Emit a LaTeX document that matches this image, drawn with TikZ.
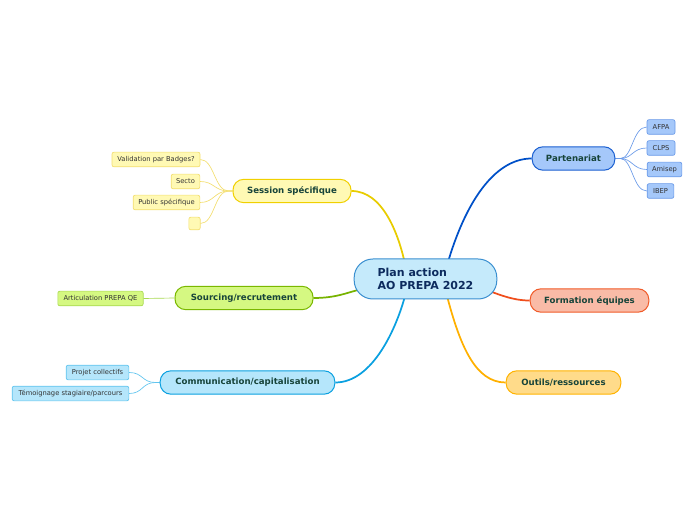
\documentclass[tikz,border=0pt]{standalone}
\usepackage{fontspec}
\setmainfont{DejaVu Sans}
\usetikzlibrary{backgrounds}
\definecolor{ctrfill}{HTML}{C5EAFB}
\definecolor{ctrdraw}{HTML}{3A8FD0}
\definecolor{ctrtext}{HTML}{0D2B5E}
\definecolor{toptext}{HTML}{17443A}
\definecolor{leaftext}{HTML}{333333}
\definecolor{pfill}{HTML}{A5C8FA}\definecolor{pdraw}{HTML}{1A5FD0}\definecolor{pline}{HTML}{0050C8}\definecolor{pleaf}{HTML}{6A9AE8}
\definecolor{sfill}{HTML}{FFF9B4}\definecolor{sdraw}{HTML}{F0D000}\definecolor{sline}{HTML}{E8CC00}\definecolor{sleaf}{HTML}{F3DE70}
\definecolor{gfill}{HTML}{D5F882}\definecolor{gdraw}{HTML}{7AB800}\definecolor{gline}{HTML}{77B300}\definecolor{gleaf}{HTML}{A8D850}
\definecolor{cfill}{HTML}{B5E6FB}\definecolor{cdraw}{HTML}{0AA0E0}\definecolor{cline}{HTML}{0AA0E0}\definecolor{cleaf}{HTML}{60C4EE}
\definecolor{ffill}{HTML}{F9BBA7}\definecolor{fdraw}{HTML}{F05A28}\definecolor{fline}{HTML}{F04E1C}
\definecolor{ofill}{HTML}{FFDB8A}\definecolor{odraw}{HTML}{FFB300}\definecolor{oline}{HTML}{FFB000}
\tikzset{
  x=0.75pt, y=-0.75pt,
  central/.style={draw=ctrdraw, fill=ctrfill, line width=0.75pt, rounded corners=14pt,
    minimum width=107pt, minimum height=30pt, align=left, text=ctrtext,
    font=\fontsize{8.25pt}{9.8pt}\selectfont\bfseries, inner sep=0pt},
  topic/.style={line width=0.75pt, rounded corners=8pt, minimum height=17.5pt, inner sep=0pt,
    text=toptext, font=\fontsize{6.45pt}{7.5pt}\selectfont\bfseries},
  leaf/.style={line width=0.5pt, rounded corners=1.5pt, minimum height=11pt, inner sep=0pt,
    text=leaftext, font=\fontsize{5.05pt}{6pt}\selectfont},
  branch/.style={line width=1.3pt},
  twig/.style={line width=0.5pt},
}
\begin{document}
\begin{tikzpicture}
\useasboundingbox (0,0) rectangle (696,520);
\node[central] (c) at (425.5,279) {Plan action\\AO PREPA 2022};
\node[topic, draw=pdraw, fill=pfill, minimum width=62pt] (part) at (573.5,158.5) {Partenariat};
\node[leaf, draw=pleaf, fill=pfill, minimum width=21pt] (afpa) at (661,127) {AFPA};
\node[leaf, draw=pleaf, fill=pfill, minimum width=21pt] (clps) at (661,148) {CLPS};
\node[leaf, draw=pleaf, fill=pfill, minimum width=26pt] (amisep) at (664.5,169.5) {Amisep};
\node[leaf, draw=pleaf, fill=pfill, minimum width=20pt] (ibep) at (660.5,191) {IBEP};
\node[topic, draw=fdraw, fill=ffill, minimum width=89pt] (form) at (589.5,300.5) {Formation équipes};
\node[topic, draw=odraw, fill=ofill, minimum width=86pt] (outils) at (563.5,382.5) {Outils/ressources};
\node[topic, draw=sdraw, fill=sfill, minimum width=88.5pt] (ses) at (292,191) {Session spécifique};
\node[leaf, draw=sleaf, fill=sfill, minimum width=66pt] (badges) at (156,159.5) {Validation par Badges?};
\node[leaf, draw=sleaf, fill=sfill, minimum width=21.5pt] (secto) at (185.5,181.5) {Secto};
\node[leaf, draw=sleaf, fill=sfill, minimum width=50pt] (public) at (166.5,202.5) {Public spécifique};
\node[leaf, draw=sleaf, fill=sfill, minimum width=8.5pt, minimum height=9.5pt] (vide) at (194.5,223.5) {};
\node[topic, draw=gdraw, fill=gfill, minimum width=103.5pt] (sourc) at (244,298) {Sourcing/recrutement};
\node[leaf, draw=gleaf, fill=gfill, minimum width=64pt] (artic) at (100.5,298.5) {Articulation PREPA QE};
\node[topic, draw=cdraw, fill=cfill, minimum width=131pt] (comm) at (247.5,382.5) {Communication/capitalisation};
\node[leaf, draw=cleaf, fill=cfill, minimum width=47pt] (projet) at (97.5,372.5) {Projet collectifs};
\node[leaf, draw=cleaf, fill=cfill, minimum width=87.5pt] (temoin) at (70.5,393.5) {Témoignage stagiaire/parcours};
\coordinate (cS) at (405,264);
\coordinate (cP) at (448,262);
\coordinate (cG) at (358,290);
\coordinate (cC) at (405,296);
\coordinate (cF) at (492,292);
\coordinate (cO) at (447,296);
\begin{pgfonlayer}{background}
\draw[branch, sline] (ses.east) .. controls +(32,0) and +(-6,-28) .. (cS);
\draw[branch, pline] (cP) .. controls (468,195) and (498,158.5) .. (part.west);
\draw[branch, gline] (sourc.east) .. controls +(22,0) and +(-12,3) .. (cG);
\draw[branch, cline] (comm.east) .. controls +(38,0) and +(-8,30) .. (cC);
\draw[branch, fline] (cF) .. controls (508,298) and (518,300.5) .. (form.west);
\draw[branch, oline] (cO) .. controls (460,345) and (475,382.5) .. (outils.west);
\foreach \n in {afpa,clps,amisep,ibep}
  \draw[twig, pleaf] (part.east) -- ++(5,0) .. controls +(12,0) and +(-14,0) .. (\n.west);
\foreach \n in {badges,secto,public,vide}
  \draw[twig, sleaf] (ses.west) -- ++(-4,0) .. controls +(-14,0) and +(14,0) .. (\n.east);
\draw[twig, gleaf] (sourc.west) -- (artic.east);
\foreach \n in {projet,temoin}
  \draw[twig, cleaf] (comm.west) -- ++(-4,0) .. controls +(-14,0) and +(14,0) .. (\n.east);
\end{pgfonlayer}
\end{tikzpicture}
\end{document}
